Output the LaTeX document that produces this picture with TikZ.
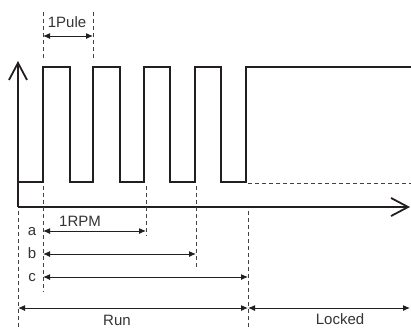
\documentclass[tikz,border=0pt]{standalone}
\usepackage{fontspec}
\setmainfont{Liberation Sans}
\usetikzlibrary{arrows.meta}
\definecolor{ink}{HTML}{231F20}
\definecolor{txt}{HTML}{333333}
\tikzset{
  signal/.style={line width=2pt, draw=ink, line join=miter},
  axis/.style={line width=2pt, draw=ink, -{Straight Barb[length=17pt,width=18pt,line width=1.8pt]}},
  guide/.style={line width=1pt, draw=ink!85, dash pattern=on 4pt off 3pt},
  dim/.style={line width=1pt, draw=ink, {Latex[length=7pt,width=6pt]}-{Latex[length=7pt,width=6pt]}},
  lbl/.style={font=\fontsize{15}{17}\selectfont, text=txt, inner sep=0pt, anchor=base}
}
\begin{document}
\begin{tikzpicture}[x=1pt,y=-1pt]
\useasboundingbox (0,0) rectangle (411,327);
% axes
\coordinate (O) at (18,207);
\coordinate (Ytip) at (18,61);
\coordinate (Xtip) at (410,207);
\draw[axis] (O) -- (Ytip);
\draw[axis] (O) -- (Xtip);
% signal
\draw[signal] (18,182) -- (43,182) -- (43,67) -- (70,67) -- (70,182) -- (93,182) -- (93,67) -- (120,67) -- (120,182)
  -- (144,182) -- (144,67) -- (170,67) -- (170,182) -- (195,182) -- (195,67) -- (221,67) -- (221,182) -- (246,182)
  -- (246,67) -- (411,67);
\draw[guide] (248,183) -- (411,183);
% guides
\coordinate (g1t) at (43,12); \coordinate (g1b) at (43,60);
\coordinate (g2t) at (93,12); \coordinate (g2b) at (93,60);
\draw[guide] (g1t) -- (g1b);
\draw[guide] (g2t) -- (g2b);
\draw[guide] (43,186) -- (43,292);
\draw[guide] (146,186) -- (146,236);
\draw[guide] (196,186) -- (196,268);
\draw[guide] (248,211) -- (248,327);
\draw[guide] (18,211) -- (18,327);
% dimension arrows
\coordinate (p1) at (43,36); \coordinate (p2) at (93,36);
\draw[dim] (p1) -- (p2);
\node[lbl] (pule) at (67,27) {1Pule};
\coordinate (a1) at (43,231); \coordinate (a2) at (146,231);
\coordinate (b1) at (43,254); \coordinate (b2) at (196,254);
\coordinate (c1) at (43,277); \coordinate (c2) at (248,277);
\draw[dim] (a1) -- (a2);
\draw[dim] (b1) -- (b2);
\draw[dim] (c1) -- (c2);
\node[lbl] (rpm) at (80,226) {1RPM};
\node[lbl] (la) at (32,235) {a};
\node[lbl] (lb) at (32,258) {b};
\node[lbl] (lc) at (32,281) {c};
\coordinate (r1) at (18,308); \coordinate (r2) at (248,308); \coordinate (r3) at (410,308);
\draw[dim] (r1) -- (r2);
\draw[dim] (r2) -- (r3);
\node[lbl] (run) at (117,325) {Run};
\node[lbl] (locked) at (340,324) {Locked};
\end{tikzpicture}
\end{document}
